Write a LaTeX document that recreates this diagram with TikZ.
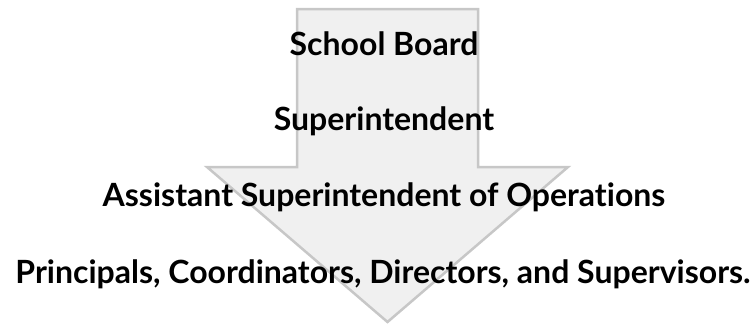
\documentclass[tikz,border=0pt]{standalone}
\usepackage{fontspec}
\setmainfont{Lato}[RawFeature={-liga}]
\begin{document}
\begin{tikzpicture}[x=1pt,y=1pt]
                        \tikzstyle{level}=[anchor=base,font=\fontsize{32}{36}\selectfont\bfseries]
                        \tikzstyle{bigarrow}=[draw=black!22,line width=2.5pt,line join=miter,fill=black!6]
                        \useasboundingbox (0,0) rectangle (756,325);
                        \draw[bigarrow] (297,316) -- (478,316) -- (478,158) -- (568,158)
                            -- (387.5,3) -- (207,158) -- (297,158) -- cycle;
                        \node[level] (board) at (384,270) {School Board};
                        \node[level] (super) at (384,195) {Superintendent};
                        \node[level] (assist) at (384,119) {Assistant Superintendent of Operations};
                        \node[level] (principals) at (383,42) {Principals, Coordinators, Directors, and Supervisors.};
                    \end{tikzpicture}
\end{document}
